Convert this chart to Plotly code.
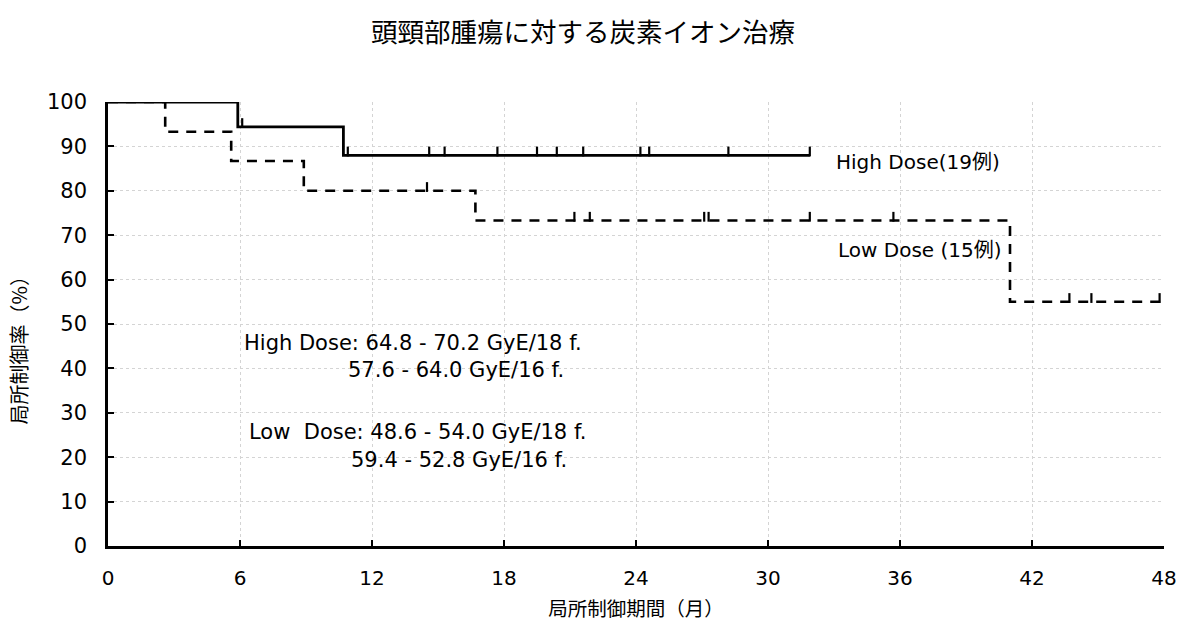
import plotly.graph_objects as go

# Kaplan-Meier step points (months, local control %)
high_t = [0, 5.9, 10.7, 31.9]
high_s = [100, 94.4, 88.0, 88.0]
low_t = [0, 2.6, 5.6, 8.9, 16.7, 41.0, 47.9]
low_s = [100, 93.3, 86.7, 80.0, 73.3, 55.0, 55.0]

# censored observations (months)
high_cens = [5.1, 5.4, 6.1, 10.9, 14.6, 15.3, 17.7, 19.5, 20.4, 21.6, 24.2, 24.6, 28.2, 31.9]
low_cens = [14.5, 21.2, 21.9, 27.1, 27.3, 31.9, 35.7, 43.7, 44.7, 47.8]

x_ticks = [0, 6, 12, 18, 24, 30, 36, 42, 48]
y_ticks = [0, 10, 20, 30, 40, 50, 60, 70, 80, 90, 100]

TICK_OFF = 0.85  # censor mark centre above the curve, in % units


def level_at(t, ts, ss):
    v = ss[0]
    for tt, s in zip(ts, ss):
        if t >= tt:
            v = s
    return v


def censor_marks(cens, ts, ss):
    return cens, [level_at(c, ts, ss) + TICK_OFF for c in cens]


fig = go.Figure()

fig.add_trace(go.Scatter(x=low_t, y=low_s, mode="lines", line_shape="hv",
                         line=dict(color="black", width=2.6, dash="10px,8px"),
                         showlegend=False))
fig.add_trace(go.Scatter(x=high_t, y=high_s, mode="lines", line_shape="hv",
                         line=dict(color="black", width=2.8),
                         showlegend=False))

for cens, ts, ss in [(high_cens, high_t, high_s), (low_cens, low_t, low_s)]:
    cx, cy = censor_marks(cens, ts, ss)
    fig.add_trace(go.Scatter(x=cx, y=cy, mode="markers", cliponaxis=False,
                             marker=dict(symbol="line-ns", size=7,
                                         line=dict(color="black", width=2.2)),
                             showlegend=False))

note_font = dict(family="DejaVu Sans", size=21, color="black")
label_font = dict(family="DejaVu Sans, Noto Sans CJK JP", size=20, color="black")
labels = [
    (33.0, 86.5, "High Dose(19例)"),
    (33.1, 66.7, "Low Dose (15例)"),
]
notes = [
    (6.1, 45.7, "High Dose: 64.8 - 70.2 GyE/18 f."),
    (10.8, 39.6, "57.6 - 64.0 GyE/16 f."),
    (6.3, 25.7, "Low\u00a0 Dose: 48.6 - 54.0 GyE/18 f."),
    (10.95, 19.4, "59.4 - 52.8 GyE/16 f."),
]
for x, y, t in labels:
    fig.add_annotation(x=x, y=y, text=t, showarrow=False, xanchor="left",
                       yanchor="middle", font=label_font)
for x, y, t in notes:
    fig.add_annotation(x=x, y=y, text=t, showarrow=False, xanchor="left",
                       yanchor="middle", font=note_font)

# vertical y-axis title, sitting a little below the plot centre
fig.add_annotation(xref="paper", yref="paper", x=-90 / 1061, y=(546 - 345) / 444,
                   text="局所制御率（%）", textangle=-90, showarrow=False,
                   xanchor="center", yanchor="middle",
                   font=dict(family="Noto Sans CJK JP", size=20, color="black"))

fig.update_layout(
    width=1189, height=632,
    margin=dict(l=108, r=20, t=102, b=86),
    paper_bgcolor="white", plot_bgcolor="white",
    title=dict(text="頭頸部腫瘍に対する炭素イオン治療", x=583 / 1189, xanchor="center",
               y=1 - 33 / 632, yanchor="middle",
               font=dict(family="Noto Sans CJK JP", size=26.5, color="black")),
    xaxis=dict(range=[0, 48], tickvals=x_ticks, ticktext=[str(v) for v in x_ticks],
               showline=True, linecolor="black", linewidth=2.5,
               ticks="inside", ticklen=6, tickcolor="black", tickwidth=2,
               showgrid=True, gridcolor="#d4d4d4", griddash="dot", gridwidth=1,
               zeroline=False, ticklabelstandoff=12,
               tickfont=dict(family="DejaVu Sans", size=20, color="black"),
               title=dict(text="局所制御期間（月）", standoff=14,
                          font=dict(family="Noto Sans CJK JP", size=19.5, color="black"))),
    yaxis=dict(range=[0, 100], tickvals=y_ticks,
               showline=True, linecolor="black", linewidth=2.5,
               ticks="inside", ticklen=6, tickcolor="black", tickwidth=2,
               showgrid=True, gridcolor="#d4d4d4", griddash="dot", gridwidth=1,
               zeroline=False, ticklabelstandoff=14,
               tickfont=dict(family="DejaVu Sans", size=21, color="black")),
)

fig.write_html("out.html")
